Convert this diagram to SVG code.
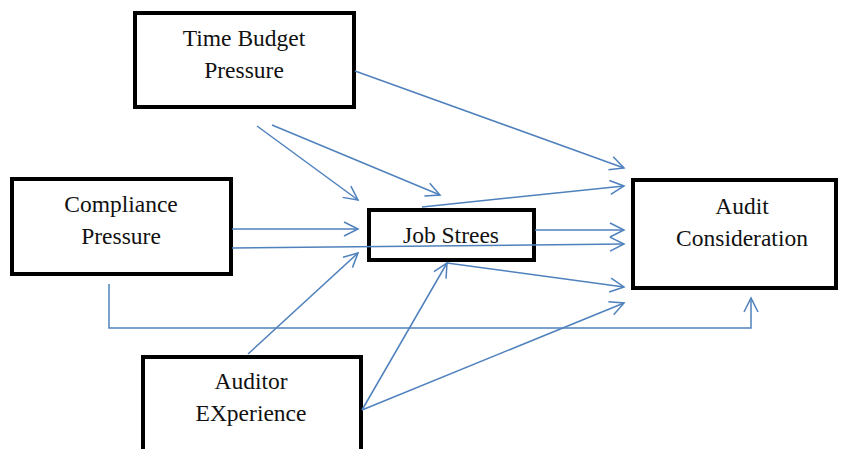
<svg xmlns="http://www.w3.org/2000/svg" width="845" height="449" viewBox="0 0 845 449">
<style>
.box{fill:#fff;stroke:#000;stroke-width:4}
.lbl{font-family:"Liberation Serif","Times New Roman",serif;font-size:23.5px;fill:#111;text-anchor:middle}
.con{fill:none;stroke:#4F81BD;stroke-width:1.5;marker-end:url(#ah)}
</style>
<defs>
<marker id="ah" markerUnits="userSpaceOnUse" viewBox="-16 -9 18 18" refX="0" refY="0" markerWidth="18" markerHeight="18" orient="auto">
<path d="M-14,-7 L0,0 L-14,7" fill="none" stroke="#4F81BD" stroke-width="1.5"/>
</marker>
</defs>
<rect width="845" height="449" fill="#fff"/>
<g id="time-budget-pressure">
<rect class="box" x="135" y="13" width="219" height="94"/>
<text class="lbl" x="244" y="46">Time Budget</text>
<text class="lbl" x="244" y="78">Pressure</text>
</g>
<g id="compliance-pressure">
<rect class="box" x="12" y="179" width="219" height="95"/>
<text class="lbl" x="121" y="212">Compliance</text>
<text class="lbl" x="121" y="244">Pressure</text>
</g>
<g id="job-strees">
<rect class="box" x="369" y="210" width="165" height="50"/>
<text class="lbl" x="451" y="243">Job Strees</text>
</g>
<g id="audit-consideration">
<rect class="box" x="633" y="180" width="203" height="108"/>
<text class="lbl" x="742" y="214">Audit</text>
<text class="lbl" x="742" y="246">Consideration</text>
</g>
<g id="auditor-experience">
<rect class="box" x="143" y="357" width="218" height="100"/>
<text class="lbl" x="251" y="389">Auditor</text>
<text class="lbl" x="251" y="421">EXperience</text>
</g>
<g id="connectors">
<line class="con" x1="355" y1="71" x2="624" y2="168"/>
<line class="con" x1="257" y1="126" x2="358" y2="200"/>
<line class="con" x1="272" y1="125" x2="440" y2="195"/>
<line class="con" x1="422" y1="207" x2="624" y2="186"/>
<line class="con" x1="232" y1="229" x2="358" y2="229"/>
<line class="con" x1="232" y1="248" x2="624" y2="244"/>
<line class="con" x1="535" y1="230" x2="624" y2="230"/>
<line class="con" x1="447" y1="263" x2="624" y2="287"/>
<line class="con" x1="248" y1="354" x2="358" y2="253"/>
<line class="con" x1="362" y1="410" x2="447" y2="263"/>
<line class="con" x1="362" y1="410" x2="624" y2="303"/>
<polyline class="con" points="109,284 109,328 751,328 751,298"/>
</g>
</svg>
